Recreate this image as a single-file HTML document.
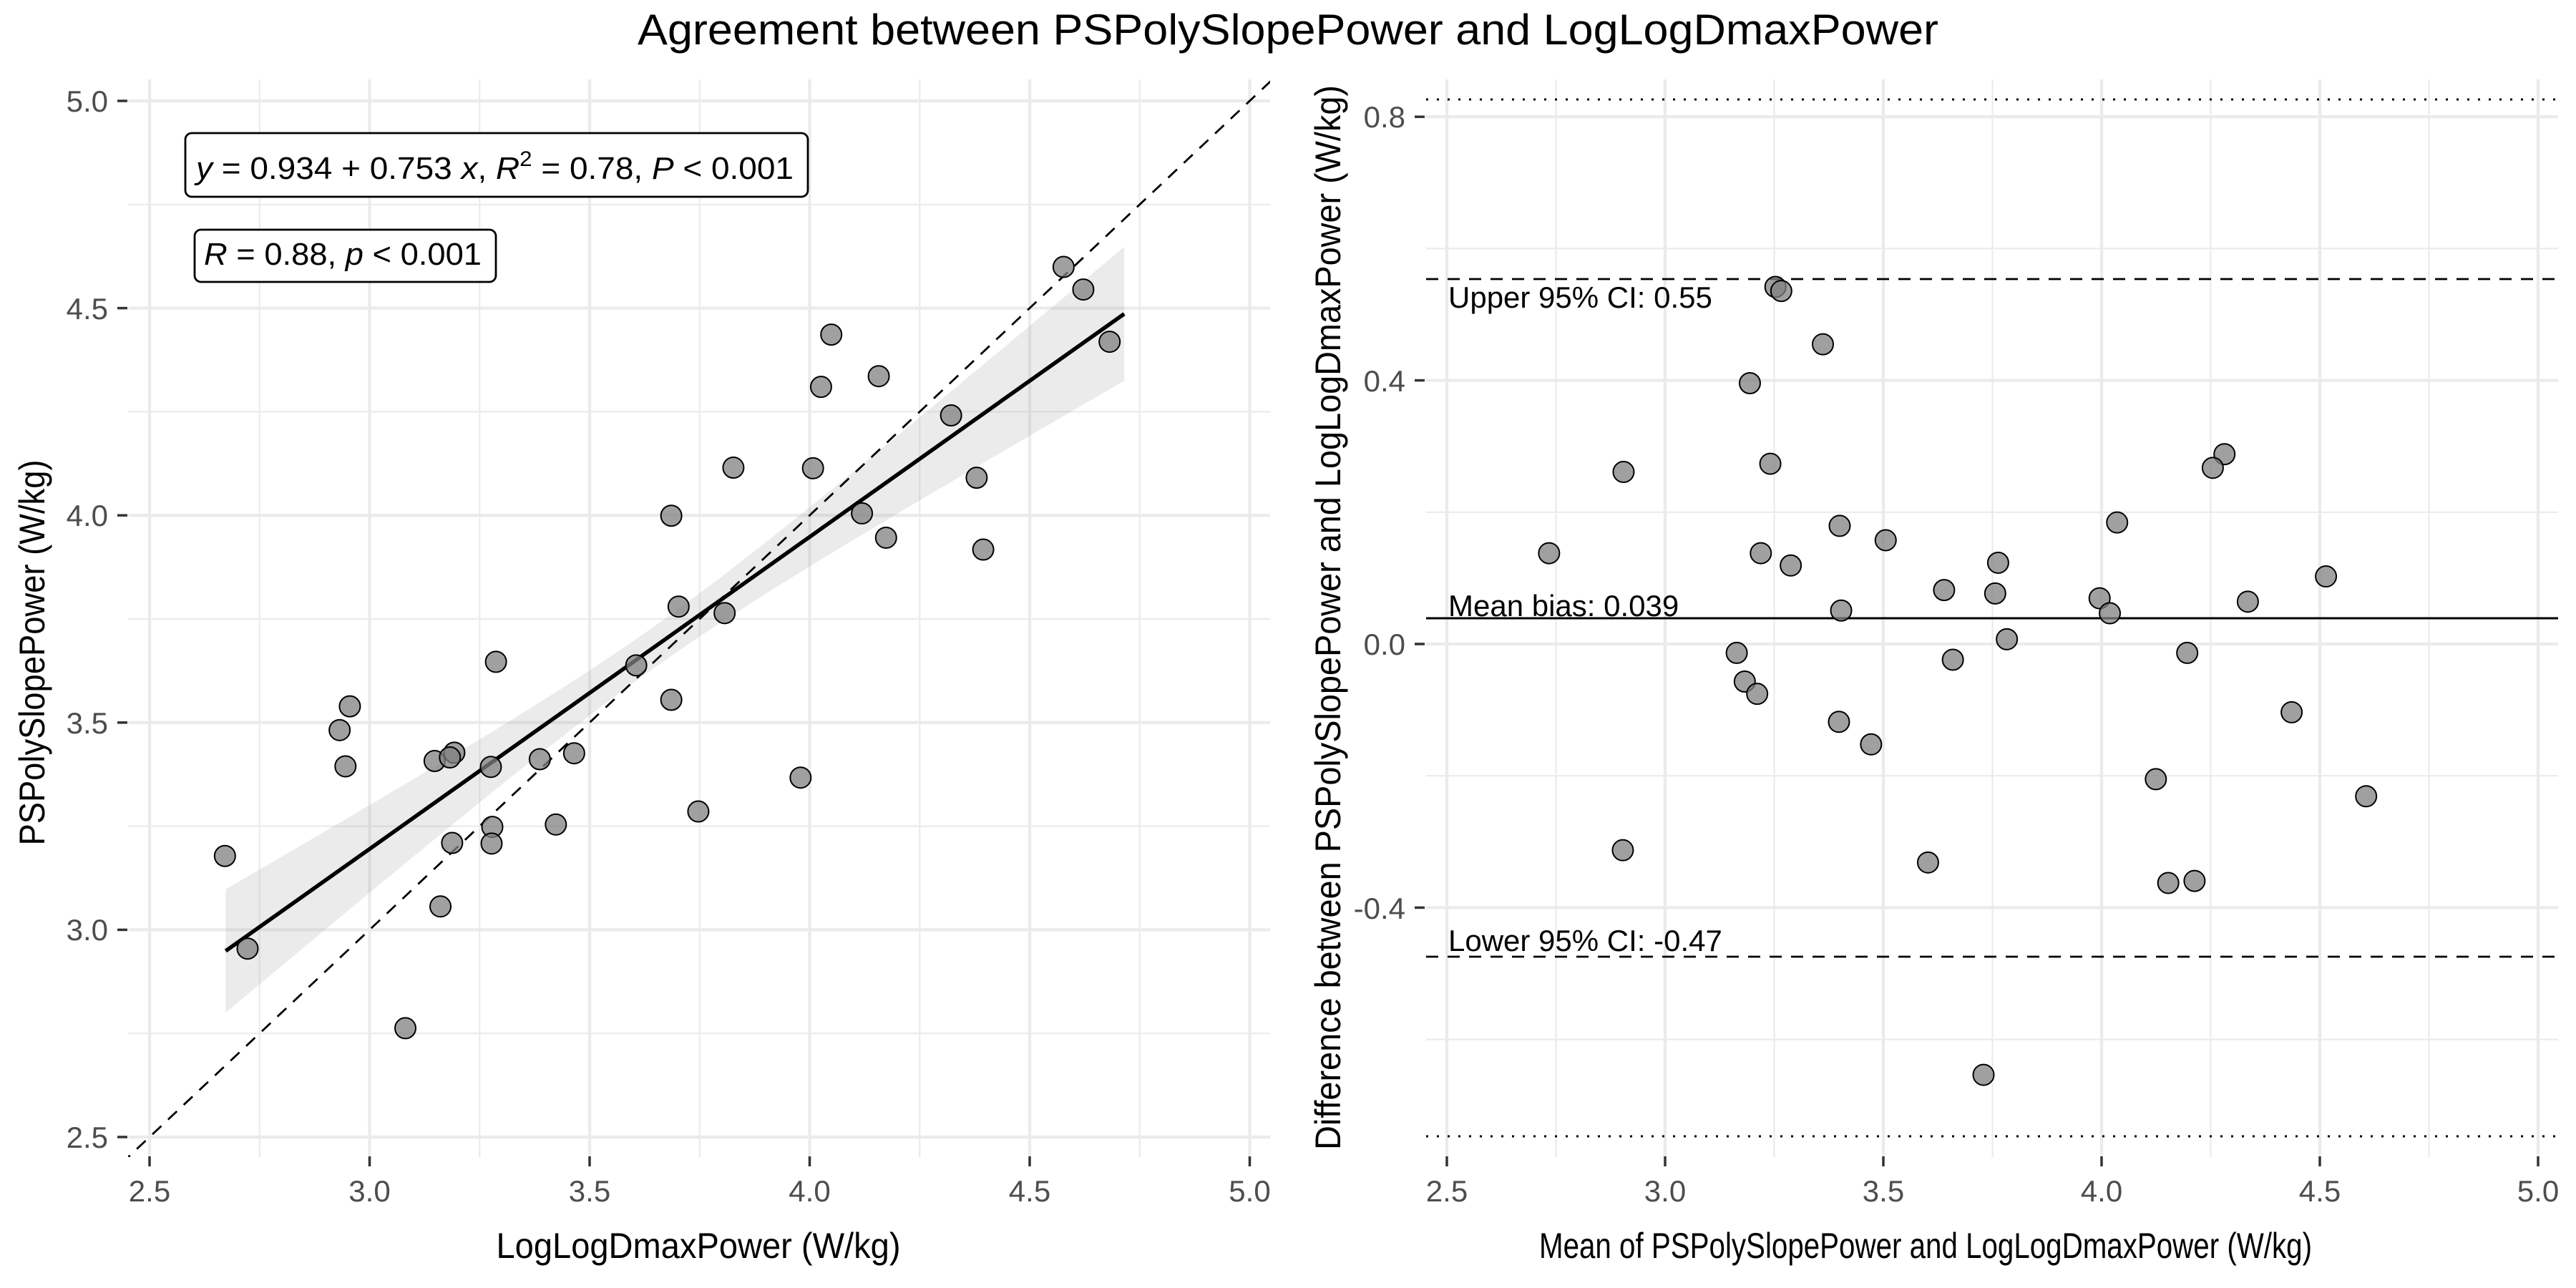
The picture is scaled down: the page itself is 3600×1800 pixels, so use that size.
<!DOCTYPE html>
<html><head><meta charset="utf-8"><style>
html,body{margin:0;padding:0;background:#fff;}
svg{display:block;font-family:"Liberation Sans",Arial,sans-serif;}
.tk{font-size:42px;fill:#4d4d4d;}
.gmaj{stroke:#ebebeb;stroke-width:4.3;}
.gmin{stroke:#ebebeb;stroke-width:2.2;}
.tick{stroke:#333;stroke-width:3.5;}
</style></head><body>
<svg id="s" width="3600" height="1800" viewBox="0 0 3600 1800" xmlns="http://www.w3.org/2000/svg">
<defs>
<clipPath id="cl"><rect x="179" y="111" width="1596" height="1506"/></clipPath>
<clipPath id="cr"><rect x="1993" y="111" width="1582" height="1506"/></clipPath>
</defs>
<g id="grid"></g>
<text x="1800" y="62" font-size="60" text-anchor="middle" textLength="1818" lengthAdjust="spacingAndGlyphs">Agreement between PSPolySlopePower and LogLogDmaxPower</text>
<g id="left"></g>
<rect x="259" y="186" width="870" height="89" rx="9" fill="#fff" stroke="#000" stroke-width="2.8"/>
<text x="274" y="250" font-size="44" textLength="835" lengthAdjust="spacingAndGlyphs"><tspan font-style="italic">y</tspan> = 0.934 + 0.753 <tspan font-style="italic">x</tspan>, <tspan font-style="italic">R</tspan><tspan dy="-18" font-size="30">2</tspan><tspan dy="18"> = 0.78, </tspan><tspan font-style="italic">P</tspan> &lt; 0.001</text>
<rect x="272" y="321" width="421" height="73" rx="9" fill="#fff" stroke="#000" stroke-width="2.8"/>
<text x="285" y="370" font-size="44" textLength="388" lengthAdjust="spacingAndGlyphs"><tspan font-style="italic">R</tspan> = 0.88, <tspan font-style="italic">p</tspan> &lt; 0.001</text>
<g id="right"></g>
<text x="2024" y="430" font-size="42">Upper 95% CI: 0.55</text>
<text x="2024" y="861" font-size="42">Mean bias: 0.039</text>
<text x="2024" y="1329" font-size="42">Lower 95% CI: -0.47</text>
<g class="tk" text-anchor="end">
<text x="151" y="156">5.0</text><text x="151" y="446">4.5</text><text x="151" y="735">4.0</text>
<text x="151" y="1025">3.5</text><text x="151" y="1314">3.0</text><text x="151" y="1604">2.5</text>
<text x="1964" y="178">0.8</text><text x="1964" y="547">0.4</text><text x="1964" y="915">0.0</text><text x="1964" y="1284">-0.4</text>
</g>
<g class="tk" text-anchor="middle">
<text x="209" y="1679">2.5</text><text x="516.5" y="1679">3.0</text><text x="824" y="1679">3.5</text><text x="1131.5" y="1679">4.0</text><text x="1439" y="1679">4.5</text><text x="1746.5" y="1679">5.0</text>
<text x="2022" y="1679">2.5</text><text x="2327" y="1679">3.0</text><text x="2632" y="1679">3.5</text><text x="2937" y="1679">4.0</text><text x="3242" y="1679">4.5</text><text x="3547" y="1679">5.0</text>
</g>
<text x="976" y="1758" font-size="50" text-anchor="middle" textLength="565" lengthAdjust="spacingAndGlyphs">LogLogDmaxPower (W/kg)</text>
<text x="2691" y="1758" font-size="50" text-anchor="middle" textLength="1080" lengthAdjust="spacingAndGlyphs">Mean of PSPolySlopePower and LogLogDmaxPower (W/kg)</text>
<text transform="translate(62,912) rotate(-90)" font-size="50" text-anchor="middle" textLength="539" lengthAdjust="spacingAndGlyphs">PSPolySlopePower (W/kg)</text>
<text transform="translate(1873,863) rotate(-90)" font-size="50" text-anchor="middle" textLength="1488" lengthAdjust="spacingAndGlyphs">Difference between PSPolySlopePower and LogLogDmaxPower (W/kg)</text>
</svg>
<script>
(function(){
var NS="http://www.w3.org/2000/svg";
function el(p,t,a){var e=document.createElementNS(NS,t);for(var k in a)e.setAttribute(k,a[k]);p.appendChild(e);return e;}
var G=document.getElementById('grid'),L=document.getElementById('left'),R=document.getElementById('right');
function lx(v){return 209+(v-2.5)*615;} function ly(v){return 1589-(v-2.5)*579.2;}
function rx(v){return 2022+(v-2.5)*610;} function ry(v){return 900-v*921;}
var i,v;
for(i=0;i<11;i++){v=2.5+i*0.25;var c=(i%2==0)?'gmaj':'gmin';
 el(G,'line',{x1:lx(v),x2:lx(v),y1:111,y2:1617,'class':c});
 el(G,'line',{x1:179,x2:1775,y1:ly(v),y2:ly(v),'class':c});
 el(G,'line',{x1:rx(v),x2:rx(v),y1:111,y2:1617,'class':c});
 if(i%2==0){el(G,'line',{x1:lx(v),x2:lx(v),y1:1616,y2:1630,'class':'tick'});el(G,'line',{x1:rx(v),x2:rx(v),y1:1616,y2:1630,'class':'tick'});
  el(G,'line',{x1:164,x2:178,y1:ly(v),y2:ly(v),'class':'tick'});}
}
for(i=-3;i<=4;i++){v=i*0.2;var c2=(i%2==0)?'gmaj':'gmin';
 el(G,'line',{x1:1993,x2:3575,y1:ry(v),y2:ry(v),'class':c2});
 if(i%2==0)el(G,'line',{x1:1977,x2:1991,y1:ry(v),y2:ry(v),'class':'tick'});}
function zx(a){return 200+a/0.9795;} function zy(b){return 300+b/1.205;}
var tp=[],bt=[];
for(var x=113;x<=1343;x+=10){var yc=1240+(x-113)*(167-1240)/(1343-113);var h=Math.sqrt(35*35+Math.pow(0.1668*(x-700),2));tp.push(zx(x)+','+zy(yc-h));bt.unshift(zx(x)+','+zy(yc+h));}
var gl=el(L,'g',{'clip-path':'url(#cl)'});
el(gl,'polygon',{points:tp.concat(bt).join(' '),fill:'#999',opacity:0.2});
el(gl,'line',{x1:lx(2.4),y1:ly(2.4),x2:lx(5.1),y2:ly(5.1),stroke:'#000','stroke-width':2.8,'stroke-dasharray':'17,13'});
el(gl,'line',{x1:zx(113),y1:zy(1240),x2:zx(1343),y2:zy(167),stroke:'#000','stroke-width':5.5});
var lp=[[1260,88],[1287,126],[1323,214],[942,202],[928,290],[1007,272],[1106,338],[808,426],[917,427],[1141,443],[723,507],[984,503],[1017,544],[1150,564],[733,660],[796,671],[675,759],[483,753],[283,828],[269,868],[277,929],[723,817],[399,920],[426,906],[420,914],[476,930],[543,917],[590,907],[900,948],[760,1005],[478,1031],[565,1027],[423,1058],[477,1059],[112,1080],[407,1165],[143,1236],[359,1370]];
lp.forEach(function(p){el(L,'circle',{cx:zx(p[0]),cy:zy(p[1]),r:14.5,fill:'#808080','fill-opacity':0.75,stroke:'#000','stroke-width':2});});
el(R,'line',{x1:1993,x2:3575,y1:139,y2:139,stroke:'#000','stroke-width':3,'stroke-dasharray':'3,12'});
el(R,'line',{x1:1993,x2:3575,y1:1588,y2:1588,stroke:'#000','stroke-width':3,'stroke-dasharray':'3,12'});
el(R,'line',{x1:1993,x2:3575,y1:390,y2:390,stroke:'#000','stroke-width':2.8,'stroke-dasharray':'17,13'});
el(R,'line',{x1:1993,x2:3575,y1:1337,y2:1337,stroke:'#000','stroke-width':2.8,'stroke-dasharray':'17,13'});
el(R,'line',{x1:1993,x2:3575,y1:864,y2:864,stroke:'#000','stroke-width':3});
function qx(a){return 2022+(a-22)/0.98;} function qy(b){return 900+(b-837)/1.048;}
var rp=[[472,314],[480,320],[537,398],[437,455],[264,585],[465,573],[1087,559],[1071,579],[940,659],[560,664],[623,685],[162,704],[452,704],[493,722],[777,718],[703,758],[773,763],[1226,738],[1119,775],[916,770],[930,792],[562,788],[789,830],[419,850],[715,860],[1036,850],[430,892],[447,910],[1179,937],[559,951],[603,984],[993,1035],[1281,1060],[263,1139],[681,1157],[1010,1187],[1046,1184],[757,1468]];
rp.forEach(function(p){el(R,'circle',{cx:qx(p[0]),cy:qy(p[1]),r:14.5,fill:'#808080','fill-opacity':0.75,stroke:'#000','stroke-width':2});});
})();
</script>
</body></html>
